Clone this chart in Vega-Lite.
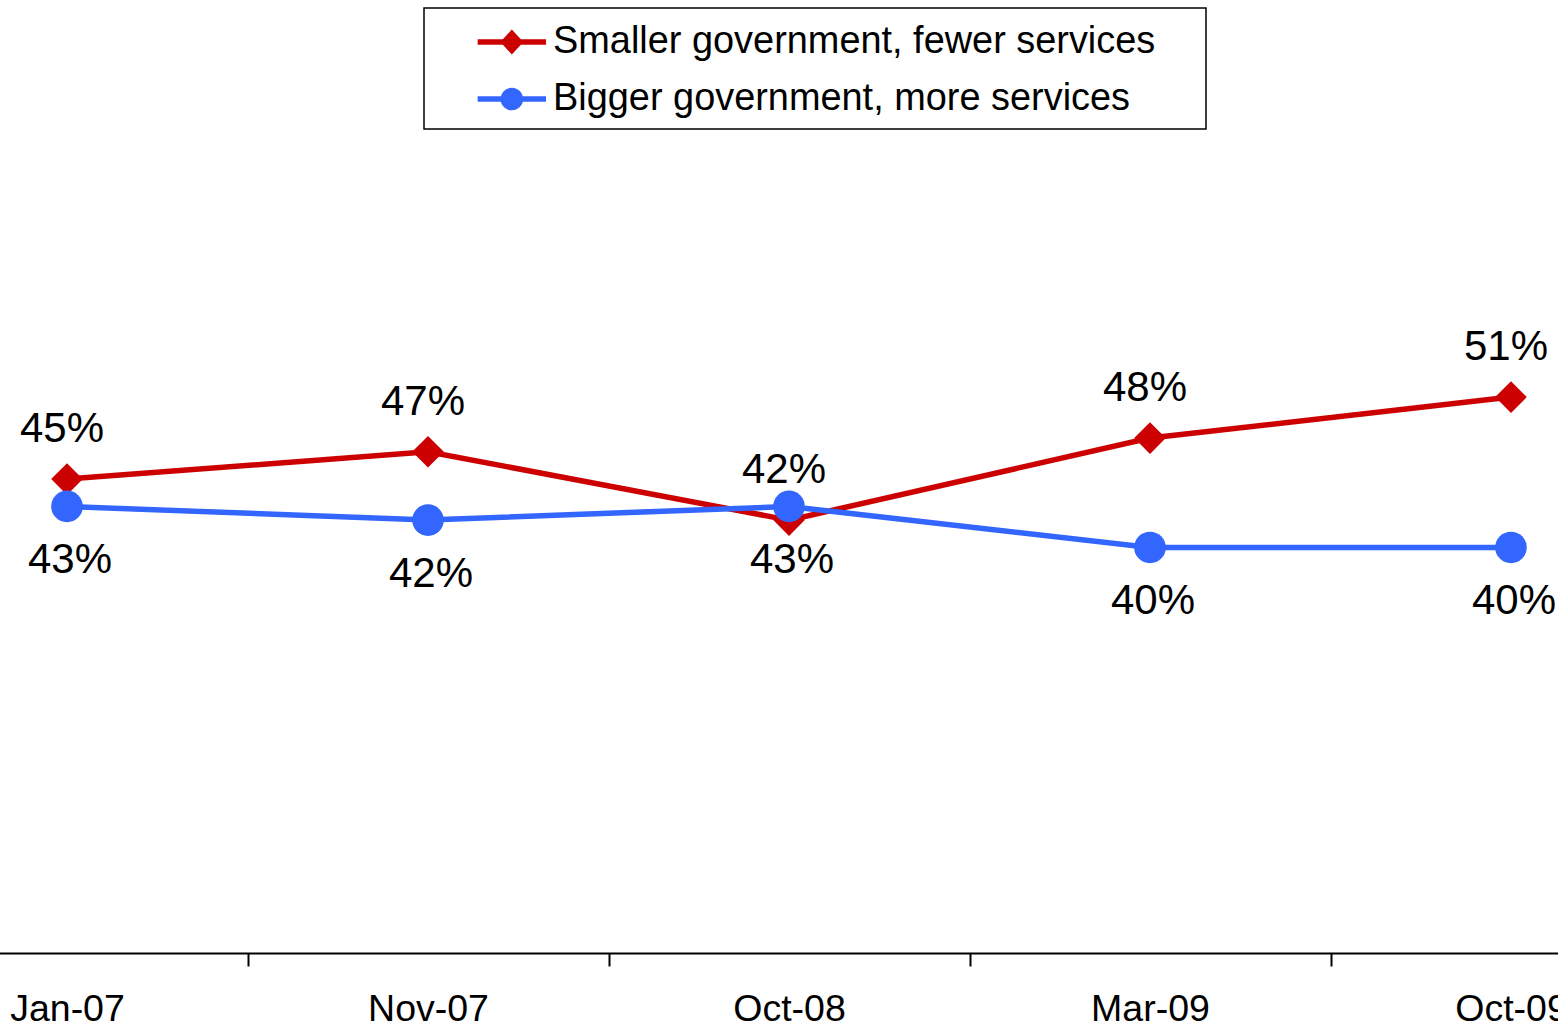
{
  "$schema": "https://vega.github.io/schema/vega-lite/v6.json",
  "width": 1558,
  "height": 953,
  "autosize": {"type": "none"},
  "padding": {"left": 0, "top": 0, "right": 0, "bottom": 74},
  "background": "white",
  "config": {
    "font": "Liberation Sans",
    "view": {"stroke": null}
  },
  "data": {
    "values": [
      {"date": "Jan-07", "series": "Smaller government, fewer services", "value": 0.45},
      {"date": "Nov-07", "series": "Smaller government, fewer services", "value": 0.47},
      {"date": "Oct-08", "series": "Smaller government, fewer services", "value": 0.42},
      {"date": "Mar-09", "series": "Smaller government, fewer services", "value": 0.48},
      {"date": "Oct-09", "series": "Smaller government, fewer services", "value": 0.51},
      {"date": "Jan-07", "series": "Bigger government, more services", "value": 0.43},
      {"date": "Nov-07", "series": "Bigger government, more services", "value": 0.42},
      {"date": "Oct-08", "series": "Bigger government, more services", "value": 0.43},
      {"date": "Mar-09", "series": "Bigger government, more services", "value": 0.40},
      {"date": "Oct-09", "series": "Bigger government, more services", "value": 0.40}
    ]
  },
  "encoding": {
    "x": {
      "field": "date",
      "type": "ordinal",
      "sort": null,
      "scale": {"type": "band", "paddingInner": 0, "paddingOuter": 0, "range": [-113.5, 1691.5]},
      "axis": {
        "title": null,
        "orient": "bottom",
        "labelAngle": 0,
        "labelFontSize": 37.5,
        "labelColor": "black",
        "labelPadding": 24,
        "labelOverlap": false,
        "labelBound": false,
        "labelFlush": false,
        "tickBand": "extent",
        "tickSize": 13,
        "tickWidth": 2,
        "tickColor": "black",
        "domainColor": "black",
        "domainWidth": 2,
        "grid": false
      }
    },
    "y": {
      "field": "value",
      "type": "quantitative",
      "scale": {"domain": [0.1033, 0.8005], "zero": false, "nice": false},
      "axis": null
    }
  },
  "layer": [
    {
      "transform": [{"filter": "datum.series === 'Smaller government, fewer services'"}],
      "mark": {"type": "line", "strokeWidth": 5.5},
      "encoding": {
        "color": {
          "field": "series",
          "type": "nominal",
          "scale": {
            "domain": ["Smaller government, fewer services", "Bigger government, more services"],
            "range": ["#CC0000", "#3366FF"]
          },
          "legend": {
            "orient": "none",
            "legendX": 424,
            "legendY": 8,
            "title": null,
            "padding": 11,
            "strokeColor": "black",
            "fillColor": "white",
            "labelFontSize": 37.9,
            "labelColor": "black",
            "labelLimit": 2000,
            "labelOffset": 22.2,
            "symbolOffset": 57.9,
            "symbolSize": 400,
            "symbolStrokeWidth": 0,
            "rowPadding": 15.1,
            "labelExpr": "datum.label + '\u00a0\u00a0\u00a0\u2009\u200b'",
            "encode": {
              "legend": {
                "update": {"strokeWidth": {"value": 1.5}}
              },
              "symbols": {
                "update": {
                  "shape": {"signal": "datum.value === 'Smaller government, fewer services' ? 'M-3.42,-0.27H3.42V0.27H-3.42ZM-1.15,0L0,-1.25L1.15,0L0,1.25Z' : 'M-3.42,-0.27H3.42V0.27H-3.42ZM-1.13,0A1.13,1.13,0,1,1,1.13,0A1.13,1.13,0,1,1,-1.13,0Z'"},
                  "fill": {"scale": "color", "field": "value"},
                  "stroke": {"value": "transparent"},
                  "strokeWidth": {"value": 0},
                  "opacity": {"value": 1},
                  "size": {"value": 400},
                  "y": {"field": "size", "mult": 0.5, "offset": 4}
                }
              },
              "labels": {
                "update": {
                  "y": {"field": "size", "mult": 0.5, "offset": 4}
                }
              }
            }
          }
        }
      }
    },
    {
      "transform": [{"filter": "datum.series === 'Smaller government, fewer services'"}],
      "mark": {"type": "point", "filled": true, "shape": "diamond", "size": 1000, "opacity": 1},
      "encoding": {"color": {"field": "series", "type": "nominal"}}
    },
    {
      "transform": [{"filter": "datum.series === 'Bigger government, more services'"}],
      "mark": {"type": "line", "strokeWidth": 5.5},
      "encoding": {"color": {"field": "series", "type": "nominal"}}
    },
    {
      "transform": [{"filter": "datum.series === 'Bigger government, more services'"}],
      "mark": {"type": "point", "filled": true, "shape": "circle", "size": 1000, "opacity": 1},
      "encoding": {"color": {"field": "series", "type": "nominal"}}
    },
    {
      "transform": [{"filter": "datum.series === 'Smaller government, fewer services'"}],
      "mark": {"type": "text", "fontSize": 42, "color": "black", "baseline": "alphabetic", "align": "center", "dy": -37, "dx": -5},
      "encoding": {"text": {"field": "value", "type": "quantitative", "format": ".0%"}}
    },
    {
      "transform": [{"filter": "datum.series === 'Bigger government, more services'"}],
      "mark": {"type": "text", "fontSize": 42, "color": "black", "baseline": "alphabetic", "align": "center", "dy": 67, "dx": 3},
      "encoding": {"text": {"field": "value", "type": "quantitative", "format": ".0%"}}
    }
  ]
}
